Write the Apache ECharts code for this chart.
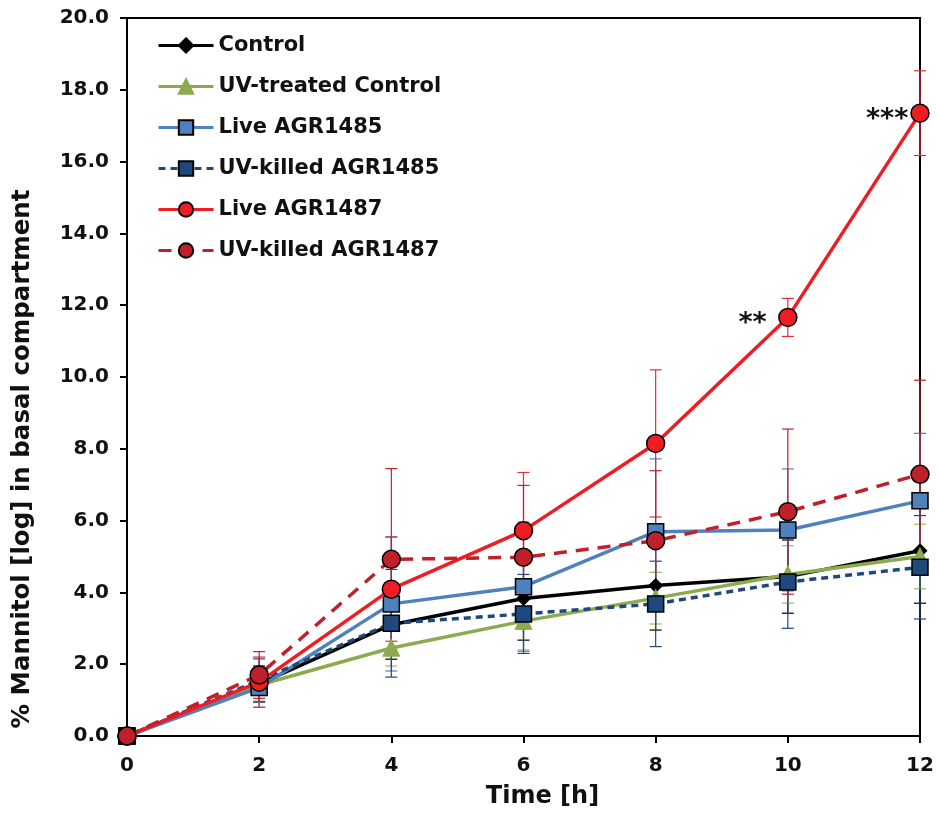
<!DOCTYPE html>
<html>
<head>
<meta charset="utf-8">
<script src="https://cdn.jsdelivr.net/npm/echarts@6/dist/echarts.min.js"></script>
<style>
  html, body { margin: 0; padding: 0; background: #fff; }
  #chart { width: 938px; height: 814px; }
</style>
</head>
<body>
<div id="chart"></div>
<script>
// Sampling times (h)
const times = [0, 2, 4, 6, 8, 10, 12];
const yTicks = [0, 2, 4, 6, 8, 10, 12, 14, 16, 18, 20];

// Mean % mannitol in the basal compartment
const control        = [0, 1.45, 3.10, 3.83, 4.19, 4.44, 5.16];
const uvControl      = [0, 1.42, 2.45, 3.20, 3.84, 4.50, 5.00];
const live1485       = [0, 1.35, 3.68, 4.16, 5.69, 5.74, 6.55];
const uvKilled1485   = [0, 1.55, 3.14, 3.40, 3.68, 4.29, 4.70];
const live1487       = [0, 1.50, 4.09, 5.72, 8.15, 11.66, 17.35];
const uvKilled1487   = [0, 1.70, 4.92, 4.98, 5.44, 6.25, 7.29];

// Standard deviations (symmetric error bars)
const controlErr      = [0, 0.50, 0.96, 1.16, 1.24, 1.02, 1.46];
const uvControlErr    = [0, 0.45, 0.50, 0.80, 0.72, 0.80, 0.90];
const live1485Err     = [0, 0.55, 1.87, 1.80, 2.03, 1.70, 1.88];
const uvKilled1485Err = [0, 0.60, 1.50, 1.10, 1.19, 1.29, 1.44];
const live1487Err     = [0, 0.70, 1.45, 1.62, 2.05, 0.53, 1.18];
const uvKilled1487Err = [0, 0.65, 2.53, 2.00, 1.95, 2.30, 2.62];

// Significance marks for Live AGR1487
const signif1487 = ['', '', '', '', '', '** ', '***'];

const FONT = 'DejaVu Sans, Liberation Sans, Arial, sans-serif';

const seriesDefs = [
  { name: 'Control', y: control, err: controlErr, color: '#000000', errColor: '#000000',
    symbol: 'diamond', size: 13, dash: 'solid', border: '#000000' },
  { name: 'UV-treated Control', y: uvControl, err: uvControlErr, color: '#8DAA4E', errColor: '#9BBB59',
    symbol: 'triangle', size: 16, dash: 'solid', border: '#8DAA4E' },
  { name: 'Live AGR1485', y: live1485, err: live1485Err, color: '#4F81BD', errColor: '#4F81BD',
    symbol: 'rect', size: 16, dash: 'solid', border: '#000000' },
  { name: 'UV-killed AGR1485', y: uvKilled1485, err: uvKilled1485Err, color: '#1F497D', errColor: '#1F497D',
    symbol: 'rect', size: 16, dash: [7, 5], border: '#000000' },
  { name: 'Live AGR1487', y: live1487, err: live1487Err, color: '#EE1D23', errColor: '#E0303A',
    symbol: 'circle', size: 18, dash: 'solid', border: '#000000', marks: signif1487 },
  { name: 'UV-killed AGR1487', y: uvKilled1487, err: uvKilled1487Err, color: '#C0202A', errColor: '#C0202A',
    symbol: 'circle', size: 18, dash: [13, 9], border: '#000000' }
];

const series = [];

// Error bars first so lines and markers sit above them
seriesDefs.forEach(function (d) {
  series.push({
    type: 'custom',
    name: d.name + ' SD',
    z: 1,
    silent: true,
    data: times.map(function (t, i) { return [t, d.y[i] - d.err[i], d.y[i] + d.err[i]]; }),
    renderItem: function (params, api) {
      const lo = api.coord([api.value(0), api.value(1)]);
      const hi = api.coord([api.value(0), api.value(2)]);
      const cap = 6;
      const style = { stroke: d.errColor, lineWidth: 1.2, fill: null };
      return {
        type: 'group',
        children: [
          { type: 'line', shape: { x1: hi[0], y1: hi[1], x2: lo[0], y2: lo[1] }, style: style },
          { type: 'line', shape: { x1: hi[0] - cap, y1: hi[1], x2: hi[0] + cap, y2: hi[1] }, style: style },
          { type: 'line', shape: { x1: lo[0] - cap, y1: lo[1], x2: lo[0] + cap, y2: lo[1] }, style: style }
        ]
      };
    },
    encode: { x: 0, y: [1, 2] }
  });
});

seriesDefs.forEach(function (d, k) {
  series.push({
    type: 'line',
    name: d.name,
    z: 3 + k,
    symbol: d.symbol,
    symbolSize: d.size,
    showAllSymbol: true,
    lineStyle: { color: d.color, width: 3.5, type: d.dash },
    itemStyle: { color: d.color, borderColor: d.border, borderWidth: 1.5 },
    emphasis: { disabled: true },
    data: times.map(function (t, i) {
      const item = { value: [t, d.y[i]] };
      if (d.marks && d.marks[i]) {
        item.label = {
          show: true, position: 'left', distance: 2, formatter: d.marks[i],
          color: '#111', fontSize: 27, fontWeight: 'bold',
          fontFamily: FONT, offset: [0, 7]
        };
      }
      return item;
    })
  });
});

const option = {
  animation: false,
  backgroundColor: '#ffffff',
  textStyle: { fontFamily: FONT },
  grid: {
    left: 127, right: 18, top: 18, bottom: 78,
    show: true, borderColor: '#000', borderWidth: 2, backgroundColor: 'transparent'
  },
  legend: {
    data: seriesDefs.map(function (d) { return d.name; }),
    orient: 'vertical',
    left: 152, top: 30,
    itemWidth: 55, itemHeight: 18, itemGap: 20,
    lineStyle: { width: 3 },
    textStyle: { fontSize: 21, fontWeight: 'bold', color: '#111', fontFamily: FONT }
  },
  xAxis: {
    type: 'value', min: 0, max: 12, interval: 2,
    name: 'Time [h]', nameLocation: 'middle', nameGap: 49,
    nameTextStyle: { fontSize: 24, fontWeight: 'bold', color: '#111', fontFamily: FONT,
      padding: [0, 0, 0, 38] },
    axisLine: { show: true, lineStyle: { color: '#000', width: 2 } },
    axisTick: { show: true, inside: false, length: 7, lineStyle: { color: '#000', width: 2 } },
    axisLabel: { fontSize: 20, fontWeight: 'bold', color: '#111', margin: 20, fontFamily: FONT },
    splitLine: { show: false }
  },
  yAxis: {
    type: 'value', min: yTicks[0], max: yTicks[yTicks.length - 1], interval: 2,
    name: '% Mannitol [log] in basal compartment', nameLocation: 'middle', nameGap: 92,
    nameTextStyle: { fontSize: 24.5, fontWeight: 'bold', color: '#111', fontFamily: FONT,
      padding: [0, 164, 0, 0] },
    axisLine: { show: true, lineStyle: { color: '#000', width: 2 } },
    axisTick: { show: true, inside: false, length: 7, lineStyle: { color: '#000', width: 2 } },
    axisLabel: { fontSize: 20, fontWeight: 'bold', color: '#111', margin: 18, fontFamily: FONT,
      formatter: function (v) { return v.toFixed(1); } },
    splitLine: { show: false }
  },
  series: series
};

const chart = echarts.init(document.getElementById('chart'), null, { renderer: 'canvas' });
chart.setOption(option);
</script>
</body>
</html>
